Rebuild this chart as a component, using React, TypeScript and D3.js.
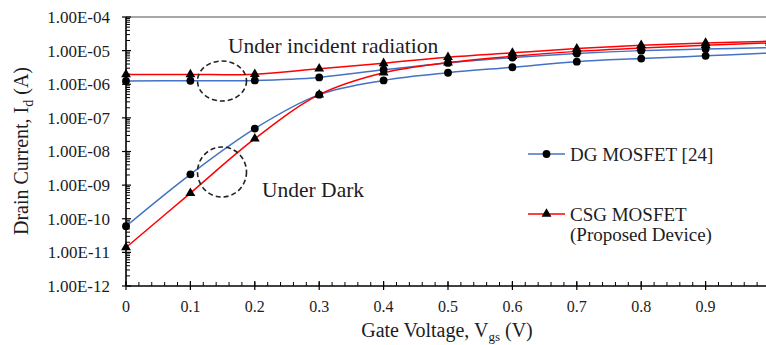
import React, { useEffect, useRef } from 'react';
import * as d3 from 'd3';

// gate voltage (V)
const vgs = [0, 0.1, 0.2, 0.3, 0.4, 0.5, 0.6, 0.7, 0.8, 0.9, 1.0];

// drain current (A)
const dgLight = [1.26e-6, 1.27e-6, 1.3e-6, 1.6e-6, 2.7e-6, 4.3e-6, 6.2e-6, 8.2e-6, 1.0e-5, 1.12e-5, 1.22e-5];
const dgDark = [6e-11, 2.1e-9, 4.8e-8, 4.9e-7, 1.3e-6, 2.2e-6, 3.2e-6, 4.7e-6, 5.8e-6, 7e-6, 8.5e-6];
const csgLight = [1.95e-6, 1.95e-6, 2.0e-6, 2.9e-6, 4.2e-6, 6.4e-6, 8.6e-6, 1.15e-5, 1.45e-5, 1.7e-5, 1.9e-5];
const csgDark = [1.4e-11, 5.8e-10, 2.4e-8, 4.9e-7, 2.2e-6, 4.4e-6, 6.8e-6, 9.5e-6, 1.2e-5, 1.45e-5, 1.7e-5];

const yExponents = [-12, -11, -10, -9, -8, -7, -6, -5, -4];
const xTicks = [0, 0.1, 0.2, 0.3, 0.4, 0.5, 0.6, 0.7, 0.8, 0.9];

const BLUE = '#4472C4';
const RED = '#FF0000';
const FONT = '"Liberation Serif", "Times New Roman", serif';
const INK = '#1c1c24';

const App = () => {
    const ref = useRef<SVGSVGElement>(null);

    const graph = () => {
        const svg = d3.select(ref.current);
        svg.selectAll('*').remove();

        const left = 126, top = 17, bottom = 286, right = 766;

        const x = d3.scaleLinear().domain([0, 1]).range([left, 770]);
        const y = d3.scaleLog().domain([1e-12, 1e-4]).range([bottom, top]);

        const g = svg.append('g');

        // frame: gray top border, black axes
        g.append('line')
            .attr('x1', left).attr('x2', right).attr('y1', top).attr('y2', top)
            .attr('stroke', '#8a8a8a').attr('stroke-width', 1.5);

        // y minor ticks (log 2..9)
        const yMinor: number[] = [];
        yExponents.slice(0, -1).forEach(e => {
            for (let m = 2; m <= 9; m++) yMinor.push(m * Math.pow(10, e));
        });
        g.append('g').selectAll('line').data(yMinor).enter().append('line')
            .attr('x1', left).attr('x2', left + 4)
            .attr('y1', d => y(d)).attr('y2', d => y(d))
            .attr('stroke', '#000').attr('stroke-width', 1);

        g.append('g').selectAll('line').data(yExponents).enter().append('line')
            .attr('x1', left - 4).attr('x2', left + 5)
            .attr('y1', d => y(Math.pow(10, d))).attr('y2', d => y(Math.pow(10, d)))
            .attr('stroke', '#000').attr('stroke-width', 1.2);

        // x minor ticks every 0.02
        const xMinor = d3.range(0, 1.0001, 0.02);
        g.append('g').selectAll('line').data(xMinor).enter().append('line')
            .attr('x1', d => x(d)).attr('x2', d => x(d))
            .attr('y1', bottom - 4).attr('y2', bottom)
            .attr('stroke', '#000').attr('stroke-width', 1);

        g.append('g').selectAll('line').data(xTicks).enter().append('line')
            .attr('x1', d => x(d)).attr('x2', d => x(d))
            .attr('y1', bottom - 5).attr('y2', bottom + 4)
            .attr('stroke', '#000').attr('stroke-width', 1.2);

        g.append('line')
            .attr('x1', left).attr('x2', left).attr('y1', top).attr('y2', bottom)
            .attr('stroke', '#000').attr('stroke-width', 1.6);
        g.append('line')
            .attr('x1', left).attr('x2', right).attr('y1', bottom).attr('y2', bottom)
            .attr('stroke', '#000').attr('stroke-width', 1.6);

        // tick labels
        const fmt = (e: number) => `1.00E-${String(-e).padStart(2, '0')}`;
        g.append('g').selectAll('text').data(yExponents).enter().append('text')
            .attr('x', 110).attr('y', d => y(Math.pow(10, d)))
            .attr('dy', '0.35em')
            .attr('text-anchor', 'end')
            .style('font-family', FONT).style('font-size', '17px').attr('fill', INK)
            .text(d => fmt(d));

        g.append('g').selectAll('text').data(xTicks).enter().append('text')
            .attr('x', d => x(d)).attr('y', 312)
            .attr('text-anchor', 'middle')
            .style('font-family', FONT).style('font-size', '16px').attr('fill', INK)
            .text(d => d3.format('~g')(d));

        // axis titles
        const xt = g.append('text')
            .attr('x', 447).attr('y', 337)
            .attr('text-anchor', 'middle')
            .style('font-family', FONT).style('font-size', '20px').attr('fill', INK);
        xt.append('tspan').text('Gate Voltage, V');
        xt.append('tspan').attr('dy', 4).style('font-size', '13px').text('gs');
        xt.append('tspan').attr('dy', -4).text(' (V)');

        const yt = g.append('text')
            .attr('transform', 'translate(28,151) rotate(-90)')
            .attr('text-anchor', 'middle')
            .style('font-family', FONT).style('font-size', '20px').attr('fill', INK);
        yt.append('tspan').text('Drain Current, I');
        yt.append('tspan').attr('dy', 5).style('font-size', '14px').text('d');
        yt.append('tspan').attr('dy', -5).text(' (A)');

        // curves
        const series = [
            { values: dgLight, color: BLUE, marker: 'circle' },
            { values: dgDark, color: BLUE, marker: 'circle' },
            { values: csgLight, color: RED, marker: 'triangle' },
            { values: csgDark, color: RED, marker: 'triangle' },
        ];

        const line = d3.line<number>()
            .x((d, i) => x(vgs[i]))
            .y(d => y(d))
            .curve(d3.curveCatmullRom.alpha(0.5));

        g.append('g').selectAll('path').data(series).enter().append('path')
            .attr('d', d => line(d.values))
            .attr('fill', 'none')
            .attr('stroke', d => d.color)
            .attr('stroke-width', 1.5);

        const circle = d3.symbol().type(d3.symbolCircle).size(48);
        const tri = d3.symbol().type(d3.symbolTriangle).size(42);
        series.forEach(s => {
            g.append('g').selectAll('path').data(s.values).enter().append('path')
                .attr('transform', (d, i) => `translate(${x(vgs[i])},${y(d)})`)
                .attr('d', s.marker === 'circle' ? circle() : tri())
                .attr('fill', '#000');
        });

        // annotations
        const ellipses = [
            { cx: 222, cy: 81, rx: 24.5, ry: 20 },
            { cx: 222, cy: 172, rx: 24.5, ry: 25 },
        ];
        g.append('g').selectAll('ellipse').data(ellipses).enter().append('ellipse')
            .attr('cx', d => d.cx).attr('cy', d => d.cy)
            .attr('rx', d => d.rx).attr('ry', d => d.ry)
            .attr('fill', 'none').attr('stroke', '#222')
            .attr('stroke-width', 1.6).attr('stroke-dasharray', '5,3');

        g.append('text').attr('x', 228).attr('y', 53)
            .style('font-family', FONT).style('font-size', '21.5px').attr('fill', INK)
            .text('Under incident radiation');
        g.append('text').attr('x', 262).attr('y', 197)
            .style('font-family', FONT).style('font-size', '21.5px').attr('fill', INK)
            .text('Under Dark');

        // legend
        const legend = [
            { y: 154, color: BLUE, marker: 'circle', lines: ['DG MOSFET [24]'] },
            { y: 214, color: RED, marker: 'triangle', lines: ['CSG MOSFET', '(Proposed Device)'] },
        ];
        const lg = g.append('g').selectAll('g').data(legend).enter().append('g')
            .attr('transform', d => `translate(528,${d.y})`);
        lg.append('line').attr('x1', 0).attr('x2', 37)
            .attr('stroke', d => d.color).attr('stroke-width', 1.5);
        lg.append('path').attr('transform', 'translate(18.5,0)')
            .attr('d', d => (d.marker === 'circle' ? circle() : tri()))
            .attr('fill', '#000');
        lg.each(function (d) {
            d.lines.forEach((t, i) => {
                d3.select(this).append('text')
                    .attr('x', 42).attr('y', 7 + i * 20)
                    .style('font-family', FONT).style('font-size', '19px').attr('fill', INK)
                    .text(t);
            });
        });
    };

    useEffect(() => graph());

    return (
        <svg ref={ref} width="766" height="345"
            style={{ position: 'absolute', left: 0, top: 0, background: '#fff' }} />
    );
};

export default App;
